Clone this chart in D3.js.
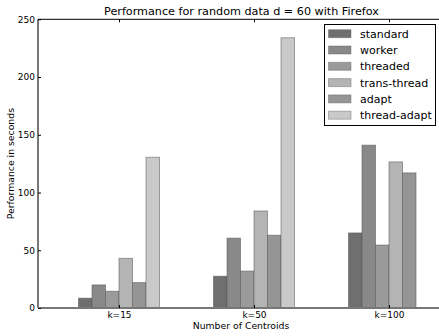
<!DOCTYPE html>
<html><head><meta charset="utf-8">
<script src="https://cdn.jsdelivr.net/npm/d3@7"></script>
<style>body{margin:0;background:#fff;}svg{display:block;font-family:"DejaVu Sans",sans-serif;}</style>
</head><body>
<svg id="c" width="439" height="336"></svg>
<script>
const categories = ["k=15", "k=50", "k=100"];
const seriesNames = ["standard", "worker", "threaded", "trans-thread", "adapt", "thread-adapt"];
const standard = [8.5, 27.5, 65];
const worker = [20, 60.5, 141];
const threaded = [14.5, 32, 54.5];
const transThread = [43, 84, 126.5];
const adapt = [22, 63, 117];
const threadAdapt = [130.5, 234, 0];
const seriesValues = [standard, worker, threaded, transThread, adapt, threadAdapt];
const yTicks = [0, 50, 100, 150, 200, 250];
const colors = ["#6f6f6f", "#898989", "#9a9a9a", "#b4b4b4", "#959595", "#c9c9c9"];

const svg = d3.select("#c");
const L = 38, R = 443, T = 19.3, B = 308;
const barW = 0.1;
const x = d3.scaleLinear().domain([-0.3, 2.7]).range([L, R]);
const y = d3.scaleLinear().domain([0, 250]).range([B, T]);

// bars
seriesValues.forEach((vals, j) => {
  svg.append("g").selectAll("rect").data(vals).enter().filter(d => d > 0).append("rect")
    .attr("x", (d, i) => x(i + j * barW))
    .attr("width", x(barW) - x(0))
    .attr("y", d => y(d))
    .attr("height", d => B - y(d))
    .attr("fill", colors[j])
    .attr("stroke", "#5a5a5a").attr("stroke-opacity", 0.55).attr("stroke-width", 1);
});

// frame
svg.append("line").attr("x1", L).attr("x2", 445).attr("y1", T).attr("y2", T).attr("stroke", "#000").attr("stroke-width", 1);
svg.append("line").attr("x1", L).attr("x2", 445).attr("y1", B).attr("y2", B).attr("stroke", "#777").attr("stroke-width", 2);
svg.append("line").attr("x1", L).attr("x2", L).attr("y1", T).attr("y2", B).attr("stroke", "#777").attr("stroke-width", 2);

// y axis
const yAxis = d3.axisLeft(y).tickValues(yTicks).tickSize(-3).tickPadding(3).tickFormat(d3.format("d"));
const gy = svg.append("g").attr("transform", `translate(${L},0)`).call(yAxis);
gy.select(".domain").remove();
gy.selectAll("text").attr("font-size", 9).attr("font-family", "DejaVu Sans").attr("fill", "#000");
gy.selectAll("line").attr("stroke", "#000");

// x axis bottom
const xTickPos = categories.map((c, i) => i + 3 * barW);
const xAxis = d3.axisBottom(x).tickValues(xTickPos).tickSize(-3).tickPadding(3.5).tickFormat((d, i) => categories[i]);
const gx = svg.append("g").attr("transform", `translate(0,${B})`).call(xAxis);
gx.select(".domain").remove();
gx.selectAll("text").attr("font-size", 9).attr("font-family", "DejaVu Sans").attr("fill", "#000");
gx.selectAll("line").attr("stroke", "#000");
// x ticks top
const gxt = svg.append("g").attr("transform", `translate(0,${T})`).call(d3.axisTop(x).tickValues(xTickPos).tickSize(-3).tickFormat(""));
gxt.select(".domain").remove();
gxt.selectAll("line").attr("stroke", "#000");

// title and labels
svg.append("text").attr("x", 241.5).attr("y", 15).attr("text-anchor", "middle").attr("font-size", 11.2)
  .text("Performance for random data d = 60 with Firefox");
svg.append("text").attr("x", 241).attr("y", 329).attr("text-anchor", "middle").attr("font-size", 9.3)
  .text("Number of Centroids");
svg.append("text").attr("transform", `translate(13.5,${(T + B) / 2}) rotate(-90)`).attr("text-anchor", "middle").attr("font-size", 9.3)
  .text("Performance in seconds");

// legend
const lg = svg.append("g");
lg.append("rect").attr("x", 324.5).attr("y", 24.5).attr("width", 111).attr("height", 101)
  .attr("fill", "#fff").attr("stroke", "#000").attr("stroke-width", 1);
seriesNames.forEach((n, j) => {
  const cy = 33.7 + j * 16.3;
  lg.append("rect").attr("x", 328.5).attr("y", cy - 4).attr("width", 22.5).attr("height", 8)
    .attr("fill", colors[j]).attr("stroke", "#5a5a5a").attr("stroke-opacity", 0.4);
  lg.append("text").attr("x", 360).attr("y", cy + 4).attr("font-size", 11).text(n);
});
</script>
</body></html>
